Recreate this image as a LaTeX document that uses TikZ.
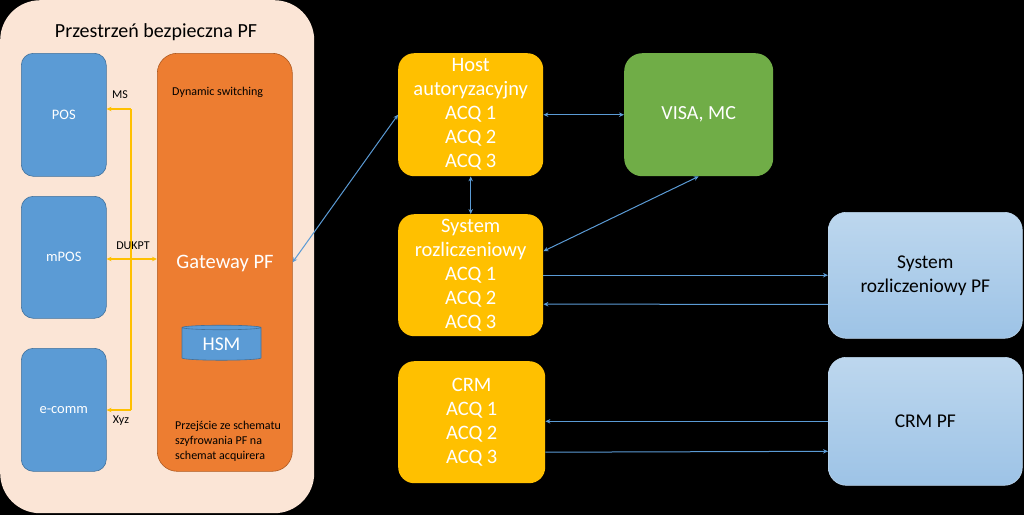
\documentclass[tikz,border=0pt]{standalone}
\usepackage{fontspec}
\setmainfont{Carlito}
\usetikzlibrary{arrows.meta,shapes.geometric}
\definecolor{peach}{HTML}{FBE5D6}
\definecolor{bluebox}{HTML}{5B9BD5}
\definecolor{blueline}{HTML}{41719C}
\definecolor{orangebox}{HTML}{ED7D31}
\definecolor{orangeline}{HTML}{AE5A21}
\definecolor{yellowbox}{HTML}{FFC000}
\definecolor{greenbox}{HTML}{70AD47}
\definecolor{lightA}{HTML}{BDD7EE}
\definecolor{lightB}{HTML}{9DC3E6}
\begin{document}
\begin{tikzpicture}[x=1pt,y=-1pt,
  box/.style={rectangle,anchor=north west,inner sep=0pt,align=center},
  devbox/.style={box,rounded corners=12pt,fill=bluebox,draw=blueline,line width=0.6pt,text=white,font=\fontsize{14.5}{17}\selectfont},
  acqbox/.style={box,rounded corners=16pt,fill=yellowbox,text=white,font=\fontsize{20.5}{24}\selectfont},
  pfbox/.style={box,rounded corners=18pt,top color=lightA,bottom color=lightB,draw=lightA,line width=0.6pt,text=black,font=\fontsize{19.5}{24}\selectfont},
  blink/.style={draw=bluebox,line width=1pt,{Stealth[length=5pt,width=4.5pt]}-{Stealth[length=5pt,width=4.5pt]}},
  blinkone/.style={draw=bluebox,line width=1pt,-{Stealth[length=5pt,width=4.5pt]}},
  ylink/.style={draw=yellowbox,line width=1.4pt},
  ytip/.style={-{Stealth[length=5pt,width=4.5pt]}},
  small/.style={inner sep=0pt,text=black,font=\fontsize{12}{14}\selectfont}
]
\fill[black] (0,0) rectangle (1024,515);
\useasboundingbox (0,0) rectangle (1024,515);

% secure space
\node[box,rounded corners=40pt,fill=peach,minimum width=314pt,minimum height=513pt] (space) at (0,0) {};
\node[inner sep=0pt,font=\fontsize{20}{24}\selectfont] (title) at (156,32) {Przestrzeń bezpieczna PF};

% devices
\node[devbox,minimum width=85pt,minimum height=123pt] (pos) at (21,53) {POS};
\node[devbox,minimum width=85pt,minimum height=122pt] (mpos) at (21,196) {mPOS};
\node[devbox,minimum width=85pt,minimum height=123pt] (ecomm) at (21,348) {e-comm};

% gateway
\node[box,rounded corners=20pt,fill=orangebox,draw=orangeline,line width=0.6pt,minimum width=135pt,minimum height=418pt] (gw) at (157,53) {};
\node[inner sep=0pt,text=white,font=\fontsize{20.5}{24}\selectfont] (gwlabel) at (225,263) {Gateway PF};
\node[small,anchor=west] (dyn) at (172,92) {Dynamic switching};
\node[small,font=\fontsize{12}{15}\selectfont,anchor=north west,align=left] (przej) at (175,421) {Przejście ze schematu\\szyfrowania PF na\\schemat acquirera};
\node[cylinder,shape border rotate=90,aspect=0.12,fill=bluebox,draw=blueline,line width=0.6pt,minimum width=79pt,minimum height=35pt,inner sep=0pt,text=white,font=\fontsize{19.5}{22}\selectfont] (hsm) at (221.5,344) {\raisebox{-3pt}{HSM}};

% yellow connectors
\coordinate (ktop) at (131,109);
\coordinate (kmid) at (131,259);
\coordinate (kbot) at (131,410);
\draw[ylink] (ktop) -- (kbot);
\draw[ylink,ytip] (ktop) -- (pos.east |- ktop);
\draw[ylink,ytip] (kbot) -- (ecomm.east |- kbot);
\draw[ylink,ytip] (kmid) -- (mpos.east |- kmid);
\draw[ylink,ytip] (kmid) -- (gw.west |- kmid);
\node[small] (ms) at (120,95) {MS};
\node[small] (dukpt) at (133,246) {DUKPT};
\node[small] (xyz) at (121,421) {Xyz};

% acquirer side
\node[acqbox,minimum width=145pt,minimum height=123pt] (host) at (398,53) {Host\\autoryzacyjny\\ACQ 1\\ACQ 2\\ACQ 3};
\node[box,rounded corners=18pt,fill=greenbox,text=white,font=\fontsize{20}{24}\selectfont,minimum width=149pt,minimum height=123pt] (visa) at (624,53) {VISA, MC};
\node[acqbox,minimum width=145pt,minimum height=122pt] (sys) at (398,214) {System\\rozliczeniowy\\ACQ 1\\ACQ 2\\ACQ 3};
\node[acqbox,minimum width=147pt,minimum height=122pt] (crm) at (398,361) {CRM\\ACQ 1\\ACQ 2\\ACQ 3};
\node[pfbox,minimum width=194pt,minimum height=126pt] (syspf) at (828,212) {System\\rozliczeniowy PF};
\node[pfbox,minimum width=194pt,minimum height=128pt] (crmpf) at (828,357) {CRM PF};

% blue connectors
\draw[blink] (gw.east) -- (host.west);
\draw[blink] (host.east) -- (visa.west);
\draw[blink] (host.south) -- (sys.north);
\draw[blink] ([yshift=24pt]sys.east) -- (visa.south);
\draw[blinkone] (sys.east) -- (syspf.west |- sys.east);
\draw[blinkone] ([yshift=-29pt]syspf.west) -- ([yshift=-29pt]sys.east);
\draw[blinkone] (crmpf.west) -- (crm.east |- crmpf.west);
\draw[blinkone] ([yshift=-30pt]crm.east) -- ([yshift=-30pt]crmpf.west);
\end{tikzpicture}
\end{document}
